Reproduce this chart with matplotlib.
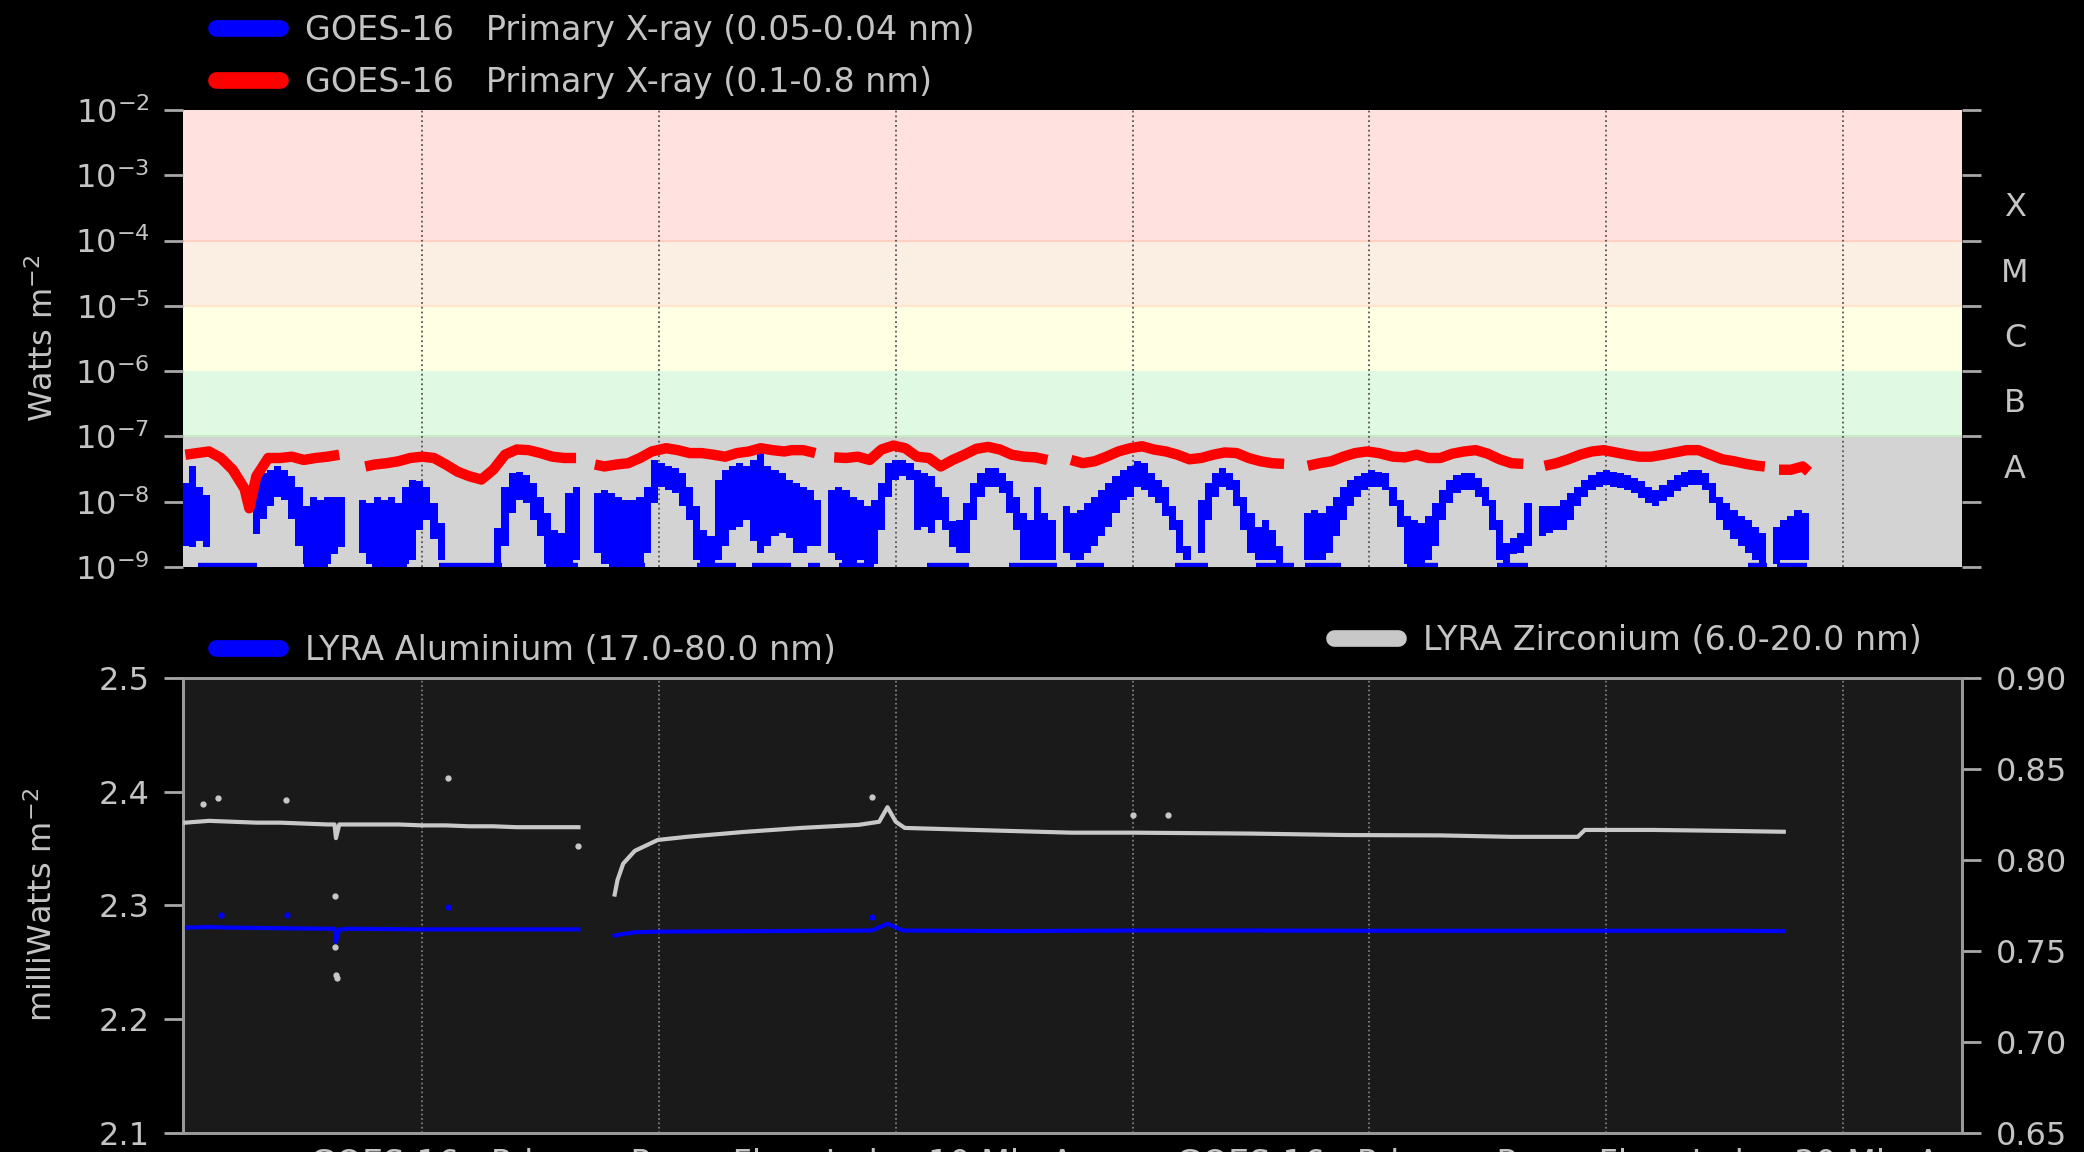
import numpy as np
import matplotlib
matplotlib.use('Agg')
import matplotlib.pyplot as plt
from matplotlib.lines import Line2D
from matplotlib.ticker import NullLocator, FormatStrFormatter
from matplotlib.transforms import blended_transform_factory

nan = np.nan

# ---- GOES-16 XRS, time in days from the start of the interval ----
# short channel (0.05-0.4 nm): per-column upper / lower extent of the data cloud, log10(W m^-2)
xrs_step = 0.03
xrs_short_hi = [
    -7.71, -7.46, -7.77, -7.90, nan, nan, nan, nan, nan, nan,
    -7.66, -7.56, -7.51, -7.46, -7.51, -7.61, -7.77, -8.07, -7.92, -7.97,
    -7.92, -7.92, -7.92, nan, nan, -7.97, -8.02, -7.92, -7.97, -7.92,
    -8.02, -7.77, -7.66, -7.69, -7.77, -8.02, -8.33, nan, nan, nan,
    nan, nan, nan, nan, -8.40, -7.77, -7.56, -7.54, -7.59, -7.71,
    -7.92, -8.17, -8.43, -8.48, -7.87, -7.77, nan, nan, -7.87, -7.82,
    -7.87, -7.92, -7.97, -7.97, -7.92, -7.77, -7.36, -7.41, -7.46, -7.48,
    -7.56, -7.77, -8.07, -8.43, -8.53, -7.66, -7.51, -7.46, -7.41, -7.46,
    -7.36, -7.26, -7.46, -7.51, -7.56, -7.66, -7.71, -7.77, -7.82, -7.97,
    nan, -7.82, -7.77, -7.82, -7.92, -7.97, -8.07, -7.97, -7.71, -7.41,
    -7.36, -7.36, -7.41, -7.51, -7.56, -7.61, -7.77, -7.92, -8.30, -8.28,
    -8.02, -7.71, -7.56, -7.48, -7.48, -7.56, -7.69, -7.92, -8.17, -8.28,
    -7.77, -8.17, -8.28, nan, -8.07, -8.17, -8.12, -8.02, -7.92, -7.82,
    -7.71, -7.61, -7.51, -7.46, -7.38, -7.41, -7.56, -7.66, -7.77, -8.07,
    -8.28, -8.68, nan, -7.97, -7.71, -7.56, -7.48, -7.56, -7.66, -7.92,
    -8.17, -8.38, -8.28, -8.43, -8.68, nan, nan, nan, -8.17, -8.12,
    -8.17, -8.07, -7.92, -7.77, -7.66, -7.61, -7.56, -7.51, -7.54, -7.56,
    -7.77, -7.97, -8.22, -8.28, -8.33, -8.22, -8.02, -7.82, -7.66, -7.59,
    -7.56, -7.56, -7.64, -7.77, -7.97, -8.28, -8.63, -8.55, -8.48, -8.02,
    nan, -8.07, -8.07, -8.07, -7.97, -7.87, -7.77, -7.66, -7.59, -7.54,
    -7.51, -7.54, -7.56, -7.59, -7.64, -7.69, -7.77, -7.82, -7.74, -7.66,
    -7.59, -7.54, -7.51, -7.51, -7.56, -7.71, -7.92, -8.02, -8.12, -8.22,
    -8.28, -8.38, -8.48, nan, -8.38, -8.28, -8.22, -8.12, -8.17,
]
xrs_short_lo = [
    -8.68, -8.70, -8.60, -8.70, nan, nan, nan, nan, nan, nan,
    -8.50, -8.27, -8.07, -7.92, -7.97, -8.27, -8.68, -8.95, -8.95, -8.95,
    -8.95, -8.80, -8.70, nan, nan, -8.79, -8.95, -8.95, -8.95, -8.95,
    -8.95, -8.95, -8.90, -8.43, -8.28, -8.57, -8.90, nan, nan, nan,
    nan, nan, nan, nan, -8.95, -8.68, -8.17, -7.97, -8.02, -8.28,
    -8.53, -8.95, -8.95, -8.95, -8.95, -8.90, nan, nan, -8.79, -8.95,
    -8.95, -8.95, -8.95, -8.95, -8.95, -8.79, -8.02, -7.77, -7.82, -7.87,
    -8.07, -8.28, -8.90, -8.95, -8.95, -8.90, -8.68, -8.43, -8.38, -8.28,
    -8.60, -8.79, -8.68, -8.53, -8.48, -8.55, -8.79, -8.79, -8.68, -8.68,
    nan, -8.79, -8.90, -8.95, -8.95, -8.90, -8.95, -8.95, -8.43, -7.92,
    -7.66, -7.61, -7.66, -8.43, -8.38, -8.48, -8.28, -8.43, -8.70, -8.79,
    -8.79, -8.28, -7.92, -7.77, -7.77, -7.87, -8.17, -8.43, -8.90, -8.90,
    -8.90, -8.90, -8.90, nan, -8.79, -8.90, -8.90, -8.79, -8.68, -8.53,
    -8.38, -8.17, -7.97, -7.92, -7.77, -7.82, -7.92, -8.02, -8.22, -8.43,
    -8.79, -8.90, nan, -8.79, -8.28, -7.92, -7.77, -7.82, -8.07, -8.43,
    -8.79, -8.90, -8.90, -8.90, -8.95, nan, nan, nan, -8.90, -8.90,
    -8.90, -8.79, -8.53, -8.28, -8.07, -7.92, -7.82, -7.77, -7.77, -7.82,
    -8.07, -8.38, -8.95, -8.95, -8.95, -8.90, -8.68, -8.28, -8.02, -7.87,
    -7.82, -7.82, -7.92, -8.07, -8.43, -8.90, -8.95, -8.80, -8.79, -8.68,
    nan, -8.53, -8.48, -8.43, -8.43, -8.28, -8.07, -7.92, -7.82, -7.77,
    -7.74, -7.77, -7.79, -7.82, -7.87, -7.95, -8.02, -8.07, -7.99, -7.92,
    -7.84, -7.77, -7.74, -7.74, -7.82, -8.02, -8.28, -8.43, -8.57, -8.68,
    -8.79, -8.90, -8.95, nan, -8.95, -8.90, -8.90, -8.90, -8.90,
]
# stretches where the short channel sits at / below 1e-9
xrs_floor_start = [0.052, 0.503, 0.788, 1.072, 1.523, 1.791, 2.159, 2.393, 2.63, 2.76,
                   3.13, 3.48, 3.76, 4.18, 4.52, 4.73, 5.16, 5.54, 6.60, 6.72]
xrs_floor_end = [0.303, 0.604, 0.938, 1.339, 1.657, 1.941, 2.326, 2.557, 2.68, 2.91,
                 3.31, 3.68, 3.88, 4.32, 4.68, 4.88, 5.29, 5.67, 6.68, 6.85]

# long channel (0.1-0.8 nm), log10(W m^-2); nan marks data gaps
xrs_long_day = [
    0.00, 0.05, 0.10, 0.15, 0.20, 0.25, 0.27, 0.30, 0.35, 0.40, 0.45, 0.50, 0.55, 0.60, 0.65, 0.70,
    0.76, 0.80, 0.85, 0.90, 0.95, 1.00, 1.05, 1.10, 1.15, 1.20, 1.25, 1.30, 1.35, 1.40, 1.45, 1.50,
    1.55, 1.60, 1.65, 1.70,
    1.73, 1.77, 1.82, 1.87, 1.92, 1.97, 2.03, 2.08, 2.13, 2.18, 2.23, 2.28, 2.33, 2.38, 2.43, 2.48,
    2.53, 2.56, 2.61, 2.66, 2.70,
    2.74, 2.79, 2.84, 2.89, 2.94, 2.99, 3.04, 3.09, 3.14, 3.19, 3.24, 3.29, 3.34, 3.39, 3.44, 3.49,
    3.54, 3.59, 3.64, 3.70,
    3.74, 3.79, 3.84, 3.89, 3.94, 3.99, 4.04, 4.09, 4.14, 4.19, 4.24, 4.29, 4.34, 4.39, 4.44, 4.49,
    4.54, 4.59, 4.64, 4.70,
    4.74, 4.79, 4.84, 4.89, 4.94, 4.99, 5.04, 5.10, 5.15, 5.20, 5.25, 5.30, 5.35, 5.40, 5.45, 5.50,
    5.55, 5.60, 5.65, 5.70,
    5.74, 5.79, 5.84, 5.89, 5.94, 5.99, 6.04, 6.09, 6.14, 6.19, 6.24, 6.29, 6.34, 6.39, 6.44, 6.49,
    6.54, 6.59, 6.64, 6.67, 6.70,
    6.73, 6.78, 6.83, 6.855,
]
xrs_long_log = [
    -7.28, -7.255, -7.23, -7.33, -7.51, -7.80, -8.10, -7.61, -7.33, -7.33, -7.31, -7.36, -7.33, -7.31, -7.28, nan,
    -7.46, -7.43, -7.41, -7.38, -7.33, -7.31, -7.33, -7.43, -7.54, -7.61, -7.66, -7.51, -7.28, -7.20, -7.21, -7.255,
    -7.31, -7.33, -7.33, nan,
    -7.43, -7.46, -7.43, -7.41, -7.33, -7.23, -7.18, -7.21, -7.255, -7.255, -7.28, -7.31, -7.255, -7.23, -7.18, -7.21,
    -7.23, -7.21, -7.21, -7.255, nan,
    -7.32, -7.33, -7.31, -7.36, -7.20, -7.14, -7.18, -7.31, -7.33, -7.46, -7.36, -7.28, -7.19, -7.16, -7.20, -7.28,
    -7.31, -7.32, -7.36, nan,
    -7.36, -7.41, -7.38, -7.31, -7.23, -7.18, -7.15, -7.20, -7.23, -7.28, -7.35, -7.33, -7.28, -7.245, -7.255, -7.33,
    -7.38, -7.41, -7.42, nan,
    -7.45, -7.41, -7.38, -7.31, -7.255, -7.23, -7.255, -7.31, -7.32, -7.28, -7.33, -7.33, -7.265, -7.23, -7.21, -7.265,
    -7.35, -7.41, -7.42, nan,
    -7.45, -7.41, -7.35, -7.28, -7.23, -7.21, -7.245, -7.28, -7.31, -7.31, -7.28, -7.245, -7.21, -7.21, -7.28, -7.35,
    -7.38, -7.42, -7.45, -7.46, nan,
    -7.51, -7.51, -7.46, -7.54,
]

# ---- PROBA2/LYRA ----
# Zirconium channel (right axis), mW m^-2
zr_day = [0.00, 0.10, 0.20, 0.30, 0.40, 0.50, 0.60, 0.63, 0.636, 0.65, 0.70, 0.80, 0.90, 1.00, 1.10,
          1.20, 1.30, 1.40, 1.50, 1.60, 1.66, 1.73,
          1.813, 1.825, 1.849, 1.898, 1.995, 2.116, 2.359, 2.60, 2.844, 2.93, 2.965, 3.00, 3.038,
          3.33, 3.74, 4.00, 4.50, 4.90, 5.30, 5.60, 5.88, 5.91, 6.20, 6.50, 6.75]
zr_val = [0.8205, 0.8215, 0.821, 0.8205, 0.8205, 0.820, 0.8195, 0.8195, 0.812, 0.8195, 0.8195, 0.8195,
          0.8195, 0.819, 0.819, 0.8185, 0.8185, 0.818, 0.818, 0.818, 0.818, nan,
          0.781, 0.789, 0.798, 0.805, 0.811, 0.8127, 0.8154, 0.8176, 0.8193, 0.821, 0.829, 0.821, 0.8176,
          0.8165, 0.815, 0.815, 0.8145, 0.8137, 0.8135, 0.8127, 0.8127, 0.8165, 0.8165, 0.816, 0.8155]
zr_spike_day = [0.075, 0.136, 0.427, 1.11, 0.63, 0.63, 0.635, 0.64, 1.66, 2.90, 4.00, 4.15]
zr_spike_val = [0.831, 0.834, 0.833, 0.845, 0.780, 0.752, 0.737, 0.735, 0.8074, 0.8345, 0.8247, 0.8245]

# Aluminium channel (left axis), mW m^-2
al_day = [0.00, 0.10, 0.20, 0.40, 0.60, 0.63, 0.636, 0.65, 0.70, 1.00, 1.30, 1.66, 1.73,
          1.813, 1.85, 1.90, 2.00, 2.50, 2.90, 2.965, 3.03, 3.50, 4.00, 4.50, 5.00, 5.50, 6.00, 6.50, 6.75]
al_val = [2.2805, 2.281, 2.2805, 2.280, 2.2795, 2.2795, 2.268, 2.279, 2.2795, 2.279, 2.279, 2.279, nan,
          2.2735, 2.275, 2.2765, 2.277, 2.2775, 2.278, 2.284, 2.278, 2.2775, 2.278, 2.278, 2.2778,
          2.2778, 2.2778, 2.2778, 2.2775]
al_spike_day = [0.15, 0.43, 1.11, 2.90]
al_spike_val = [2.292, 2.292, 2.299, 2.290]

flare_classes = ['A', 'B', 'C', 'M', 'X']
flare_bands = [(1e-9, 1e-7), (1e-7, 1e-6), (1e-6, 1e-5), (1e-5, 1e-4), (1e-4, 1e-2)]
band_colors = ['#d3d3d3', '#e0f9e3', '#ffffe4', '#fbeee3', '#ffe2df']

TXT = '#c4c4c4'
TICK = '#a8a8a8'
FS = 23
LEG_FS = 24

fig = plt.figure(figsize=(20.84, 11.52), dpi=100, facecolor='black')
ax1 = fig.add_axes([0.0878, 0.5078, 0.8537, 0.3967])
ax2 = fig.add_axes([0.0878, 0.0165, 0.8537, 0.3950])
xlim = (-0.01, 7.503)

# ---------- X-ray panel ----------
ax1.set_yscale('log')
for (lo, hi), c in zip(flare_bands, band_colors):
    ax1.axhspan(lo, hi, color=c, lw=0, zorder=0)
ax1.axhline(1e-4, color='#ffcfc0', lw=1.5, zorder=0.5)
ax1.axhline(1e-5, color='#fde6cc', lw=1.5, zorder=0.5)
ax1.axhline(1e-7, color='#c6ecc6', lw=1.5, zorder=0.5)

xs_day = np.arange(len(xrs_short_hi)) * xrs_step
hi = 10 ** np.array(xrs_short_hi)
lo = 10 ** np.array(xrs_short_lo)
ax1.bar(xs_day, hi - lo, bottom=lo, width=xrs_step, color='#0000ff', lw=0, zorder=3)
for s, e in zip(xrs_floor_start, xrs_floor_end):
    ax1.hlines(1e-9, s, e, color='#0000ff', lw=6, zorder=3)
ax1.plot(xrs_long_day, 10 ** np.array(xrs_long_log), color='#ff0000', lw=7.5,
         solid_capstyle='butt', zorder=4)

ax1.set_xlim(*xlim)
ax1.set_ylim(1e-9, 1e-2)
ax1.set_xticks(range(1, 8))
ax1.grid(axis='x', color='#555555', ls=':', lw=1.3, zorder=1)
ax1.set_axisbelow(False)
ax1.set_yticks([10.0 ** k for k in range(-9, -1)])
ax1.yaxis.set_minor_locator(NullLocator())
ax1.tick_params(axis='x', length=0, labelbottom=False)
ax1.tick_params(axis='y', length=14, width=2, color=TICK, labelcolor=TXT, labelsize=FS, pad=10)
for sp in ax1.spines.values():
    sp.set_visible(False)

# right-hand flare class scale
ax1r = ax1.twinx()
ax1r.set_yscale('log')
ax1r.set_ylim(1e-9, 1e-2)
ax1r.set_yticks([10.0 ** k for k in range(-9, -1)])
ax1r.set_yticklabels([])
ax1r.yaxis.set_minor_locator(NullLocator())
ax1r.tick_params(axis='y', length=14, width=2, color=TICK)
for sp in ax1r.spines.values():
    sp.set_visible(False)
trans = blended_transform_factory(ax1.transAxes, ax1.transData)
class_centres = [-7.5, -6.5, -5.5, -4.5, -3.5]
for name, c in zip(flare_classes, class_centres):
    ax1.text(1.0298, 10 ** c, name, transform=trans, ha='center', va='center',
             color=TXT, fontsize=FS)

fig.text(44 / 2084, 1 - 338 / 1152, 'Watts m$^{-2}$', rotation=90, ha='center', va='center',
         color=TXT, fontsize=FS)

leg_kw = dict(frameon=False, borderpad=0, borderaxespad=0, handlelength=1.92, handletextpad=0.75,
              labelspacing=0.56, fontsize=LEG_FS, labelcolor=TXT, bbox_transform=fig.transFigure,
              loc='upper left')
h_short = Line2D([], [], color='#0000ff', lw=12, solid_capstyle='round')
h_long = Line2D([], [], color='#ff0000', lw=12, solid_capstyle='round')
ax1.legend([h_short, h_long],
           ['GOES-16   Primary X-ray (0.05-0.04 nm)', 'GOES-16   Primary X-ray (0.1-0.8 nm)'],
           bbox_to_anchor=(216 / 2084, 1 - 14 / 1152), **leg_kw)

# ---------- LYRA panel ----------
ax2.set_facecolor('#1a1a1a')
ax2r = ax2.twinx()
ax2.plot(al_day, al_val, color='#0000ff', lw=3, zorder=3)
ax2.plot(al_spike_day, al_spike_val, 'o', color='#0000ff', ms=3.5, zorder=3)
ax2r.plot(zr_day, zr_val, color='#c8c8c8', lw=3, zorder=3)
ax2r.plot(zr_spike_day, zr_spike_val, 'o', color='#c8c8c8', ms=3.5, zorder=3)

ax2.set_xlim(*xlim)
ax2.set_ylim(2.1, 2.5)
ax2.set_yticks([2.1, 2.2, 2.3, 2.4, 2.5])
ax2.yaxis.set_major_formatter(FormatStrFormatter('%.1f'))
ax2r.set_ylim(0.65, 0.90)
ax2r.set_yticks([0.65, 0.70, 0.75, 0.80, 0.85, 0.90])
ax2r.yaxis.set_major_formatter(FormatStrFormatter('%.2f'))
ax2.set_xticks(range(1, 8))
ax2.grid(axis='x', color='#8a8a8a', ls=':', lw=1.2)
ax2.tick_params(axis='x', length=0, labelbottom=False)
ax2.tick_params(axis='y', length=14, width=2, color=TICK, labelcolor=TXT, labelsize=FS, pad=10)
ax2r.tick_params(axis='y', length=14, width=2, color=TICK, labelcolor=TXT, labelsize=FS, pad=10)
for a in (ax2, ax2r):
    for sp in a.spines.values():
        sp.set_color('#9a9a9a')
        sp.set_linewidth(2)

fig.text(43 / 2084, 1 - 905 / 1152, 'milliWatts m$^{-2}$', rotation=90, ha='center', va='center',
         color=TXT, fontsize=FS)

h_al = Line2D([], [], color='#0000ff', lw=12, solid_capstyle='round')
h_zr = Line2D([], [], color='#c8c8c8', lw=12, solid_capstyle='round')
ax2.legend([h_al], ['LYRA Aluminium (17.0-80.0 nm)'],
           bbox_to_anchor=(216 / 2084, 1 - 634 / 1152), **leg_kw)
ax2r.legend([h_zr], ['LYRA Zirconium (6.0-20.0 nm)'],
            bbox_to_anchor=(1334 / 2084, 1 - 624 / 1152), **leg_kw)

# legend of the proxy-flare panel below, running off the bottom edge
fig.text(310 / 2084, 1 - 1148 / 1152, 'GOES-16   Primary Proxy Flare Index 10 Min Avg',
         ha='left', va='top', color=TXT, fontsize=LEG_FS)
fig.text(1176 / 2084, 1 - 1148 / 1152, 'GOES-16   Primary Proxy Flare Index 30 Min Avg',
         ha='left', va='top', color=TXT, fontsize=LEG_FS)

fig.savefig('out.png', dpi=100, facecolor='black')
